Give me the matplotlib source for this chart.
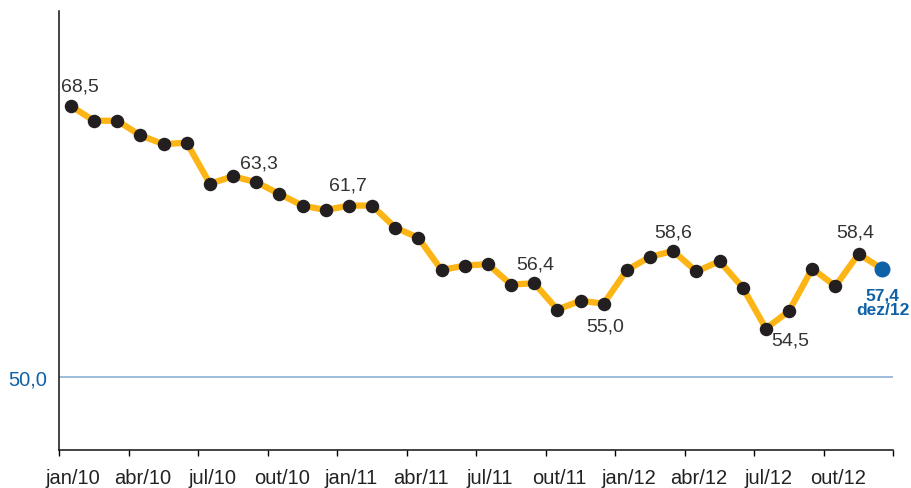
import numpy as np
import matplotlib
matplotlib.use("Agg")
import matplotlib.pyplot as plt

plt.rcParams["font.family"] = ["Liberation Sans", "DejaVu Sans"]

# monthly index values, jan/10 .. dez/12
values = [68.5, 67.5, 67.5, 66.5, 65.9, 66.0, 63.2, 63.7, 63.3, 62.5, 61.7, 61.4,
          61.7, 61.7, 60.2, 59.5, 57.3, 57.6, 57.7, 56.3, 56.4, 54.6, 55.2, 55.0,
          57.3, 58.2, 58.6, 57.2, 57.9, 56.1, 53.3, 54.5, 57.4, 56.2, 58.4, 57.4]
quarter_labels = ["jan/10", "abr/10", "jul/10", "out/10", "jan/11", "abr/11",
                  "jul/11", "out/11", "jan/12", "abr/12", "jul/12", "out/12"]
# which points get a value label, and where (offset in px: dx, dy)
label_idx = [0, 8, 12, 20, 23, 26, 31, 34]
label_off = [(9, 20), (3, 19), (-1, 21), (1, 19), (1, -22), (0, 19), (1, -29), (-3, 22)]
last_label = "dez/12"
threshold = 50.0

LINE = "#FDB515"
DOT = "#231F20"
BLUE = "#0F62A8"

x = np.arange(len(values))

fig = plt.figure(figsize=(9.12, 4.89), dpi=100)
ax = fig.add_axes([0.065, 0.0777, 0.9145, 0.8978])

ax.axhline(threshold, color="#8DB0D4", lw=1.2, zorder=1)
ax.plot(x, values, color=LINE, lw=4.5, zorder=2, solid_joinstyle="miter")
ax.plot(x[:-1], values[:-1], "o", color=DOT, ms=8.7, zorder=3)
ax.plot(x[-1], values[-1], "o", color=BLUE, ms=10.5, zorder=3)

for i, (dx, dy) in zip(label_idx, label_off):
    ax.annotate(f"{values[i]:.1f}".replace(".", ","), (x[i], values[i]),
                xytext=(dx, dy), textcoords="offset pixels",
                ha="center", va="center", fontsize=14, color="#333333")

ax.annotate(f"{values[-1]:.1f}".replace(".", ",") + "\n" + last_label,
            (x[-1], values[-1]), xytext=(1, -19), textcoords="offset pixels",
            ha="center", va="top", fontsize=12.5, fontweight="bold",
            color=BLUE, linespacing=0.95)

ax.set_xlim(-0.5, len(values) - 0.5)
ax.set_ylim(45, 75)

# quarter boundaries as tick marks, labels under the first month of each quarter
ax.set_xticks(np.arange(-0.5, len(values), 3))
ax.set_xticklabels([])
ax.set_xticks(np.arange(0, len(values), 3) + 0.1, minor=True)
ax.set_xticklabels(quarter_labels, minor=True, fontsize=14.5, color="#222222")
ax.tick_params(axis="x", which="major", length=4.5, width=1, direction="out")
ax.tick_params(axis="x", which="minor", length=0, pad=13)

ax.set_yticks([threshold])
ax.set_yticklabels([f"{threshold:.1f}".replace(".", ",")], fontsize=14.5, color=BLUE)
ax.tick_params(axis="y", length=0, pad=9)

for s in ("top", "right"):
    ax.spines[s].set_visible(False)
for s in ("left", "bottom"):
    ax.spines[s].set_linewidth(1.1)
    ax.spines[s].set_color("#111111")

fig.savefig("out.png", dpi=100)
